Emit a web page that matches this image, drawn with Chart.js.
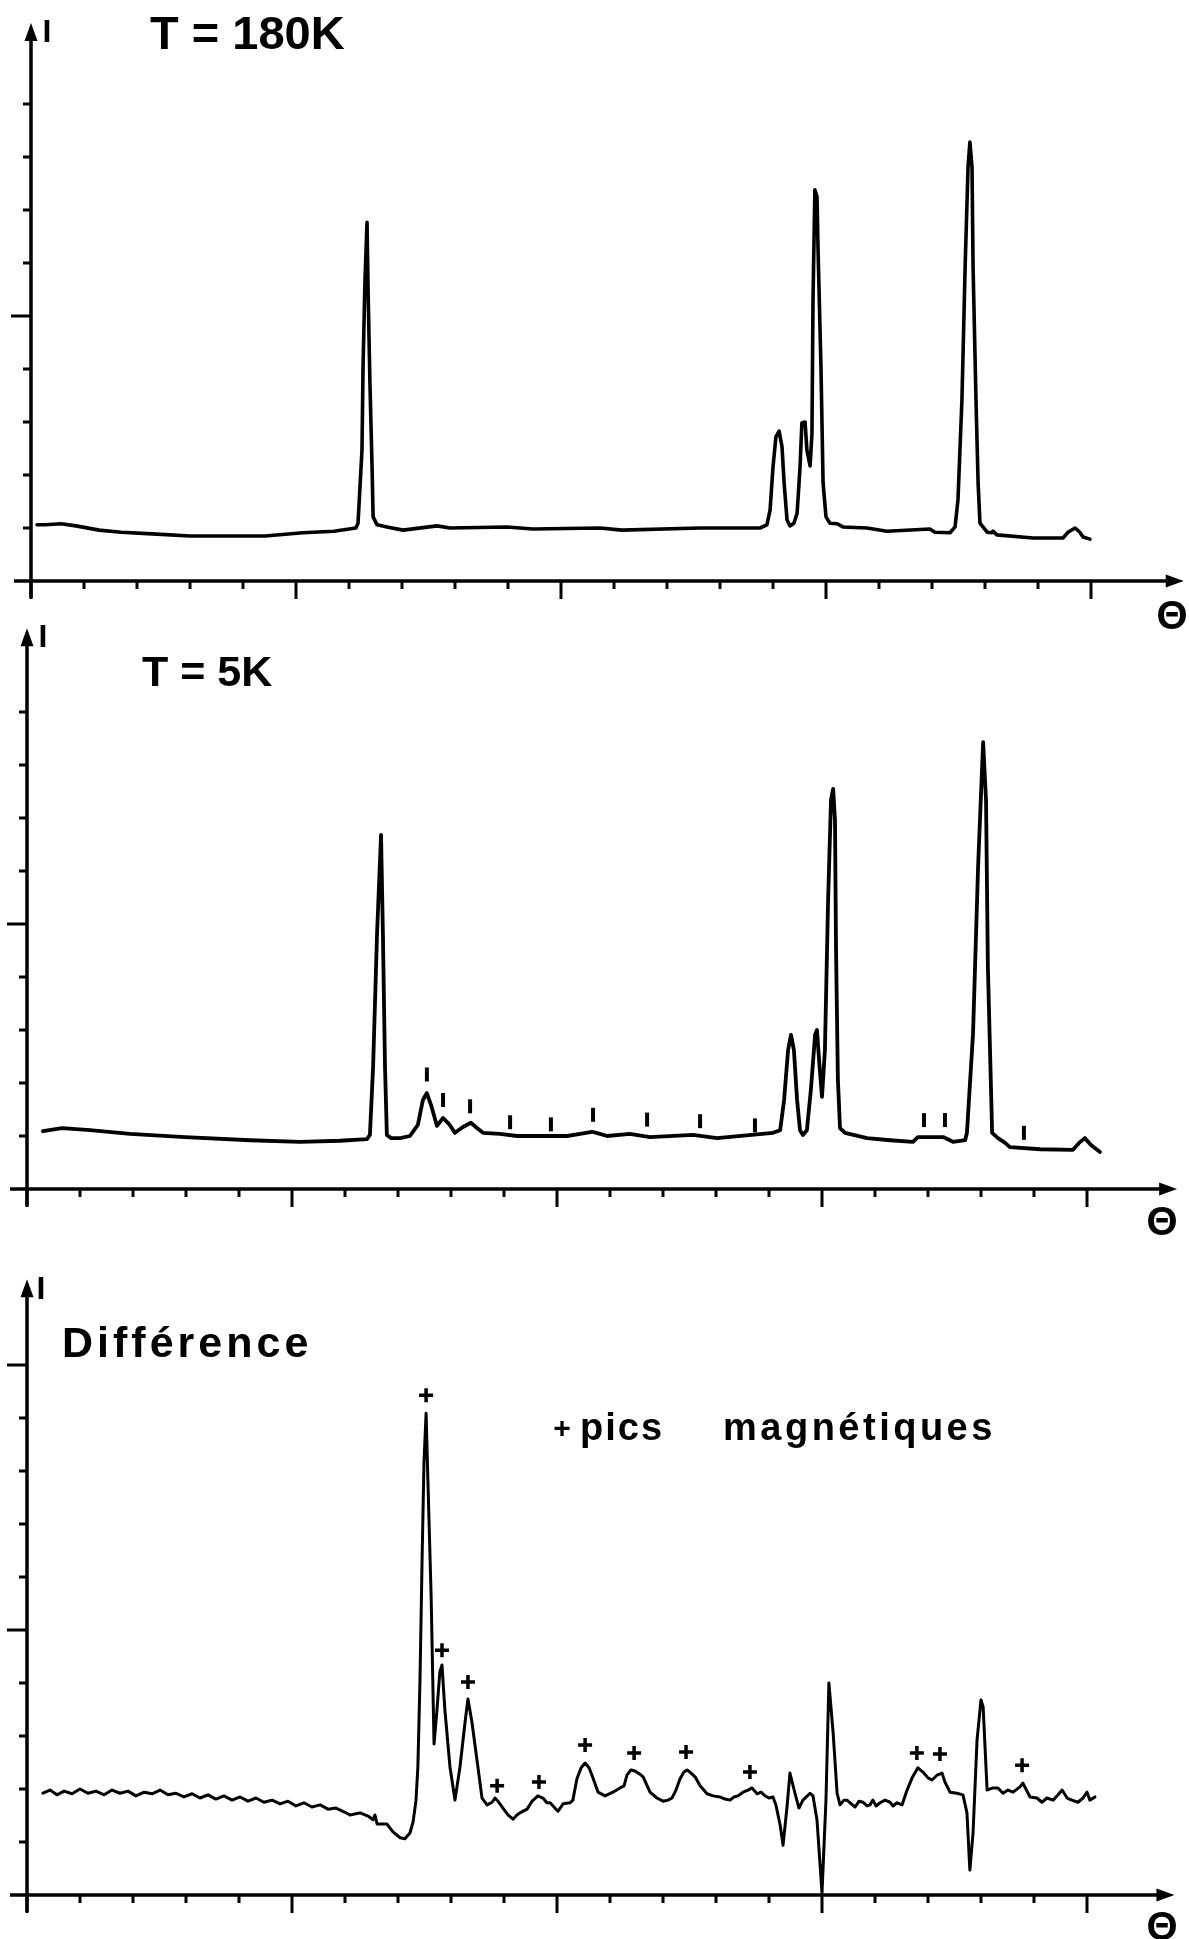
<!DOCTYPE html>
<html>
<head>
<meta charset="utf-8">
<title>Diffraction neutronique : T = 180K, T = 5K, différence</title>
<script src="https://cdn.jsdelivr.net/npm/chart.js@4.4.1/dist/chart.umd.min.js"></script>
<style>
  html, body { margin: 0; padding: 0; background: #ffffff; }
  #page { position: relative; width: 1189px; height: 1939px; overflow: hidden; background: #ffffff; }
  canvas { position: absolute; left: 0; }
</style>
</head>
<body>
<div id="page">
  <canvas id="c180" width="1189" height="640" style="top:0px"></canvas>
  <canvas id="c5" width="1189" height="640" style="top:620px"></canvas>
  <canvas id="cdiff" width="1189" height="679" style="top:1260px"></canvas>
</div>
<script>
// ---- axis ticks (Θ in arbitrary units, intensity in tick units) ----
const xMajorTicks = [0, 10, 20, 30, 40];
const xMinorTicks = [2, 4, 6, 8, 12, 14, 16, 18, 22, 24, 26, 28, 32, 34, 36, 38];
const yMinorTicks = [1, 2, 3, 4, 6, 7, 8, 9];
const yMajorTicks = [5];
const yMajorTicksDiff = [5, 10];

// ---- T = 180K pattern ----
const theta180 = [0.23,0.53,1.13,1.70,2.57,3.40,4.57,6.00,7.40,8.83,10.26,11.43,12.26,
  12.34,12.49,12.53,12.60,12.68,12.72,12.79,12.87,12.91,
  13.06,13.43,14.04,15.32,15.81,17.96,18.94,21.47,22.30,
  25.25,26.49,27.51,
  27.77,27.89,28.00,28.11,28.23,28.34,28.42,28.53,28.64,28.79,
  28.91,29.02,29.09,29.21,29.28,29.40,29.47,29.51,29.58,29.66,29.70,29.81,29.89,
  30.00,30.15,30.42,30.64,31.55,32.30,
  33.92,34.11,34.68,34.87,
  34.98,35.13,35.25,35.36,35.43,35.51,35.55,35.66,35.74,35.81,36.08,36.26,36.30,36.45,
  37.81,38.94,39.13,39.40,39.58,39.70,39.96];
const int180 = [1.06,1.06,1.08,1.04,0.96,0.92,0.89,0.85,0.85,0.85,0.91,0.94,1.00,
  1.09,2.47,4.04,5.62,6.77,5.49,3.74,2.15,1.21,
  1.06,1.02,0.96,1.04,1.00,1.02,0.98,1.00,0.96,
  1.00,1.00,1.00,
  1.06,1.34,2.15,2.72,2.83,2.53,1.85,1.15,1.04,1.09,
  1.28,2.15,2.98,3.00,2.47,2.17,2.79,5.30,7.38,7.25,6.25,4.04,1.85,
  1.21,1.09,1.08,1.02,1.00,0.94,
  0.98,0.92,0.91,1.02,
  1.53,3.42,5.92,7.81,8.28,7.81,5.92,3.42,1.85,1.09,0.92,0.91,0.94,0.87,
  0.81,0.81,0.92,1.00,0.92,0.83,0.79];

// ---- T = 5K pattern ----
const theta5 = [0.60,1.32,2.38,3.89,5.96,8.42,10.30,11.81,12.83,
  12.94,13.06,13.21,13.36,13.43,13.51,13.58,13.74,
  14.08,14.45,14.75,14.94,15.09,15.25,15.47,15.70,15.92,16.15,16.45,16.75,16.98,17.21,17.85,18.49,20.38,20.87,21.32,21.62,21.89,22.75,23.51,25.13,26.04,
  28.15,
  28.42,28.57,28.72,28.83,28.94,29.06,29.17,29.28,29.43,29.58,29.74,29.81,29.89,30.00,30.11,30.23,30.34,30.42,30.49,30.53,30.60,30.68,
  30.87,31.70,32.57,33.43,33.62,34.57,34.94,35.40,
  35.47,35.70,35.89,36.08,36.19,36.26,36.42,
  36.64,36.91,37.09,38.23,39.47,39.70,39.92,40.15,40.49];
const int5 = [1.09,1.15,1.11,1.04,0.98,0.92,0.89,0.91,0.94,
  1.02,2.30,4.83,6.68,4.83,2.30,1.02,0.96,
  0.96,1.00,1.21,1.68,1.81,1.58,1.19,1.34,1.23,1.06,1.17,1.25,1.15,1.06,1.04,1.00,1.00,1.04,1.08,1.04,1.00,1.04,0.98,1.02,0.96,
  1.06,
  1.11,1.68,2.62,2.91,2.62,1.68,1.11,1.02,1.11,1.87,2.91,3.00,2.43,1.74,2.62,5.45,7.34,7.55,6.96,4.51,2.06,1.15,
  1.06,0.96,0.92,0.89,0.98,0.98,0.89,0.92,
  1.06,2.94,6.08,8.43,7.34,4.19,1.06,
  0.96,0.87,0.79,0.75,0.74,0.87,0.96,0.83,0.70];

// short bars marking the new reflections at 5K
const barTheta5 = [15.09,15.70,16.72,18.23,19.77,21.36,23.40,25.40,27.47,33.85,34.64,37.62];
const barLevel5 = [2.16,1.68,1.56,1.26,1.22,1.40,1.31,1.28,1.20,1.30,1.30,1.06];

// ---- difference 5K - 180K ----
const thetaDiff = [0.60,0.87,1.13,1.40,1.70,2.00,2.30,2.60,2.91,3.21,3.51,3.81,4.11,4.42,4.72,5.02,5.32,5.62,5.92,6.23,
  6.53,6.83,7.13,7.43,7.74,8.04,8.34,8.64,8.94,9.25,9.55,9.85,10.15,10.45,10.75,11.06,11.36,11.66,11.96,12.19,
  12.57,12.87,13.06,13.13,13.21,13.58,13.81,14.08,14.26,14.45,14.57,14.68,14.75,14.83,14.91,14.98,15.06,15.13,15.25,15.36,
  15.47,15.58,15.66,15.77,15.96,16.15,16.34,16.53,16.64,16.79,16.98,17.17,17.36,17.55,17.66,17.77,17.96,18.15,18.34,18.49,
  18.60,18.87,19.06,19.28,19.47,19.62,19.74,19.92,20.04,20.23,20.49,20.60,20.75,20.91,21.06,21.21,21.32,21.55,21.81,22.11,
  22.38,22.53,22.64,22.79,22.94,23.13,23.25,23.51,23.77,24.00,24.19,24.34,24.49,24.64,24.79,24.91,25.06,25.21,25.40,25.66,
  25.89,26.15,26.34,26.53,26.68,26.83,27.02,27.21,27.36,27.55,27.70,27.85,28.00,28.15,28.26,28.42,28.53,28.68,28.79,28.98,
  29.13,29.28,29.55,29.66,29.81,30.00,30.15,30.26,30.42,30.57,30.68,30.83,30.94,31.06,31.25,31.40,31.55,31.70,31.81,31.92,
  32.04,32.19,32.38,32.57,32.68,32.83,33.02,33.21,33.40,33.62,33.81,34.00,34.15,34.34,34.53,34.64,34.83,35.09,35.32,35.47,
  35.58,35.70,35.85,36.00,36.08,36.23,36.45,36.64,36.83,37.02,37.21,37.47,37.58,37.85,38.11,38.30,38.49,38.72,38.91,39.06,
  39.25,39.43,39.66,39.85,40.00,40.11,40.30];
const intDiff = [1.92,1.98,1.89,1.96,1.91,2.00,1.92,1.96,1.89,1.98,1.92,1.96,1.87,1.94,1.91,1.98,1.89,1.92,1.85,1.91,
  1.83,1.89,1.81,1.87,1.79,1.85,1.77,1.83,1.75,1.79,1.72,1.77,1.68,1.74,1.66,1.70,1.62,1.64,1.57,1.51,
  1.55,1.49,1.42,1.51,1.34,1.34,1.19,1.08,1.06,1.17,1.38,1.79,2.42,4.06,6.36,8.15,9.09,7.79,5.64,2.85,
  3.49,4.21,4.34,3.49,2.42,1.79,2.42,3.26,3.70,3.26,2.55,1.83,1.70,1.75,1.83,1.77,1.64,1.51,1.43,1.51,
  1.55,1.62,1.77,1.87,1.83,1.74,1.74,1.64,1.58,1.72,1.74,1.79,2.19,2.40,2.49,2.40,2.26,1.94,1.87,1.94,
  2.02,2.06,2.26,2.36,2.34,2.28,2.23,1.94,1.83,1.77,1.79,1.83,1.98,2.19,2.32,2.36,2.30,2.23,2.06,1.91,
  1.87,1.85,1.81,1.79,1.85,1.87,1.94,1.98,2.02,1.91,1.94,1.87,1.83,1.85,1.70,1.32,0.94,1.66,2.30,1.92,
  1.64,1.79,1.92,1.87,1.42,0.04,1.79,4.00,3.06,1.92,1.70,1.79,1.79,1.74,1.66,1.77,1.75,1.68,1.70,1.79,
  1.68,1.74,1.79,1.75,1.68,1.74,1.70,1.98,2.21,2.40,2.32,2.21,2.17,2.26,2.30,2.13,1.94,1.92,1.89,1.55,
  0.47,1.17,2.92,3.68,3.55,1.98,2.02,2.02,1.92,1.98,1.94,2.04,2.11,1.85,1.83,1.75,1.83,1.79,1.89,1.98,
  1.83,1.79,1.75,1.83,1.94,1.79,1.85];

// "+" markers over the magnetic peaks
const plusTheta = [15.06,15.66,16.64,17.74,19.32,21.06,22.91,24.87,27.28,33.58,34.45,37.55];
const plusLevel = [9.43,4.62,4.02,2.06,2.13,2.83,2.68,2.70,2.32,2.68,2.66,2.45];

const INK = '#000000';
const FONT = '"Liberation Sans", Arial, Helvetica, sans-serif';

function toPoints(xs, ys) {
  return xs.map((x, i) => ({ x: x, y: ys[i] }));
}

// Hand-drawn style axes: arrowed lines, ticks, labels
const handAxes = {
  id: 'handAxes',
  afterDatasetsDraw(chart, args, o) {
    const ctx = chart.ctx;
    const xs = chart.scales.x, ys = chart.scales.y;
    const x0 = xs.getPixelForValue(0);
    const y0 = ys.getPixelForValue(0);
    const xTip = xs.getPixelForValue(o.xArrow);
    const yTip = ys.getPixelForValue(o.yArrow);
    ctx.save();
    ctx.strokeStyle = INK;
    ctx.fillStyle = INK;
    ctx.lineCap = 'butt';

    // axis lines
    ctx.lineWidth = 3.5;
    ctx.beginPath();
    ctx.moveTo(x0 - 17, y0);
    ctx.lineTo(xTip - 10, y0);
    ctx.moveTo(x0, y0 + 17);
    ctx.lineTo(x0, yTip + 10);
    ctx.stroke();

    // arrow heads
    ctx.beginPath();
    ctx.moveTo(xTip, y0);
    ctx.lineTo(xTip - 18, y0 - 6.5);
    ctx.lineTo(xTip - 18, y0 + 6.5);
    ctx.closePath();
    ctx.fill();
    ctx.beginPath();
    ctx.moveTo(x0, yTip);
    ctx.lineTo(x0 - 6.5, yTip + 18);
    ctx.lineTo(x0 + 6.5, yTip + 18);
    ctx.closePath();
    ctx.fill();

    // ticks
    ctx.lineWidth = 3;
    ctx.beginPath();
    o.xMinor.forEach(v => { const p = xs.getPixelForValue(v); ctx.moveTo(p, y0); ctx.lineTo(p, y0 + 8); });
    o.xMajor.forEach(v => { const p = xs.getPixelForValue(v); ctx.moveTo(p, y0); ctx.lineTo(p, y0 + 18); });
    o.yMinor.forEach(v => { const p = ys.getPixelForValue(v); ctx.moveTo(x0, p); ctx.lineTo(x0 - 8, p); });
    o.yMajor.forEach(v => { const p = ys.getPixelForValue(v); ctx.moveTo(x0, p); ctx.lineTo(x0 - 20, p); });
    ctx.stroke();

    // texts
    (o.texts || []).forEach(t => {
      ctx.font = t.font;
      ctx.textAlign = t.align || 'left';
      ctx.textBaseline = t.baseline || 'alphabetic';
      if ('letterSpacing' in ctx) ctx.letterSpacing = (t.spacing || 0) + 'px';
      ctx.fillText(t.text, t.x, t.y);
    });
    if ('letterSpacing' in ctx) ctx.letterSpacing = '0px';
    ctx.restore();
  }
};

function makeChart(id, datasets, pad, yMax, axesOpts) {
  return new Chart(document.getElementById(id), {
    type: 'line',
    data: { datasets: datasets },
    options: {
      responsive: false,
      animation: false,
      devicePixelRatio: 1,
      events: [],
      layout: { padding: pad },
      scales: {
        x: { type: 'linear', min: 0, max: 41, display: false },
        y: { type: 'linear', min: 0, max: yMax, display: false }
      },
      plugins: {
        legend: { display: false },
        tooltip: { enabled: false },
        handAxes: axesOpts
      }
    },
    plugins: [handAxes]
  });
}

function curve(xs, ys, width) {
  return {
    data: toPoints(xs, ys),
    borderColor: INK,
    borderWidth: width,
    pointRadius: 0,
    tension: 0,
    borderJoinStyle: 'round',
    borderCapStyle: 'round',
    clip: false
  };
}

// T = 180K
makeChart('c180',
  [curve(theta180, int180, 3.6)],
  { left: 31, right: 71.5, top: 51, bottom: 59 }, 10,
  {
    xArrow: 43.5, yArrow: 10.53,
    xMajor: xMajorTicks, xMinor: xMinorTicks, yMajor: yMajorTicks, yMinor: yMinorTicks,
    texts: [
      { text: 'T = 180K', x: 150, y: 49, font: 'bold 47px ' + FONT },
      { text: 'I', x: 47, y: 42, font: 'bold 32px ' + FONT, align: 'center' },
      { text: 'Θ', x: 1172, y: 618, font: 'bold 40px ' + FONT, align: 'center', baseline: 'middle' }
    ]
  });

// T = 5K
makeChart('c5',
  [
    {
      data: toPoints(barTheta5, barLevel5),
      showLine: false,
      pointStyle: 'line',
      pointRotation: 90,
      pointRadius: 7,
      pointBorderWidth: 4,
      pointBorderColor: INK,
      pointBackgroundColor: INK,
      clip: false
    },
    curve(theta5, int5, 3.8)
  ],
  { left: 27, right: 75.5, top: 39, bottom: 71 }, 10,
  {
    xArrow: 43.4, yArrow: 10.58,
    xMajor: xMajorTicks, xMinor: xMinorTicks, yMajor: yMajorTicks, yMinor: yMinorTicks,
    texts: [
      { text: 'T = 5K', x: 142, y: 66, font: 'bold 43px ' + FONT },
      { text: 'I', x: 43, y: 27, font: 'bold 32px ' + FONT, align: 'center' },
      { text: 'Θ', x: 1162, y: 604, font: 'bold 40px ' + FONT, align: 'center', baseline: 'middle' }
    ]
  });

// Difference
makeChart('cdiff',
  [
    {
      data: toPoints(plusTheta, plusLevel),
      showLine: false,
      pointStyle: 'cross',
      pointRadius: 7,
      pointBorderWidth: 3.5,
      pointBorderColor: INK,
      pointBackgroundColor: INK,
      clip: false
    },
    curve(thetaDiff, intDiff, 3)
  ],
  { left: 27, right: 75.5, top: 52, bottom: 44 }, 11,
  {
    xArrow: 43.3, yArrow: 11.62,
    xMajor: xMajorTicks, xMinor: xMinorTicks, yMajor: yMajorTicksDiff, yMinor: yMinorTicks,
    texts: [
      { text: 'Différence', x: 62, y: 97, font: 'bold 43px ' + FONT, spacing: 4 },
      { text: '+', x: 562, y: 170, font: 'bold 30px ' + FONT, align: 'center', baseline: 'middle' },
      { text: 'pics', x: 580, y: 180, font: 'bold 38px ' + FONT, spacing: 2 },
      { text: 'magnétiques', x: 723, y: 180, font: 'bold 38px ' + FONT, spacing: 3.5 },
      { text: 'I', x: 41, y: 39, font: 'bold 32px ' + FONT, align: 'center' },
      { text: 'Θ', x: 1162, y: 669, font: 'bold 40px ' + FONT, align: 'center', baseline: 'middle' }
    ]
  });
</script>
</body>
</html>
